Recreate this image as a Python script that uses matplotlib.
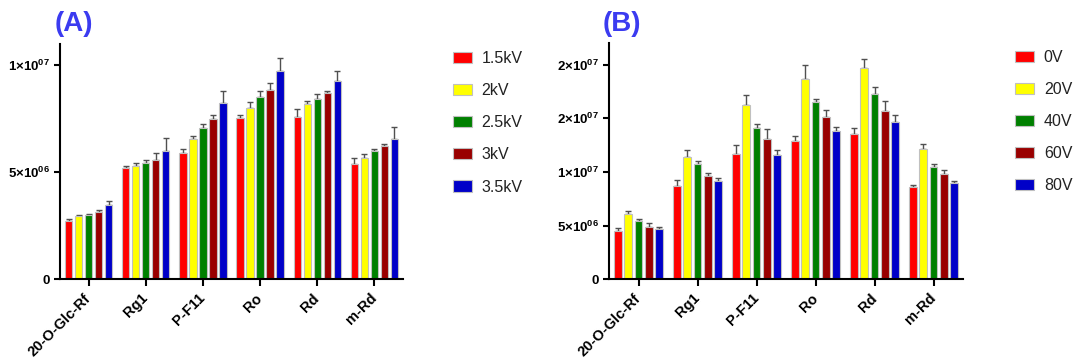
import numpy as np
import matplotlib
matplotlib.use('Agg')
import matplotlib.pyplot as plt

plt.rcParams['font.family'] = 'Liberation Sans'
plt.rcParams['mathtext.fontset'] = 'custom'
plt.rcParams['mathtext.rm'] = 'Liberation Sans:bold'
plt.rcParams['mathtext.bf'] = 'Liberation Sans:bold'

compounds = ['20-O-Glc-Rf', 'Rg1', 'P-F11', 'Ro', 'Rd', 'm-Rd']
colors = ['#ff0000', '#ffff00', '#008000', '#990000', '#0000c8']

# (A) capillary voltage, peak area per compound
kv_labels = ['1.5kV', '2kV', '2.5kV', '3kV', '3.5kV']
kv_mean = [
    [2.72, 5.19, 5.90, 7.54, 7.57, 5.38],
    [2.94, 5.29, 6.57, 8.01, 8.20, 5.68],
    [3.00, 5.45, 7.07, 8.53, 8.45, 5.99],
    [3.16, 5.59, 7.51, 8.83, 8.70, 6.23],
    [3.47, 5.99, 8.26, 9.75, 9.28, 6.57],
]
kv_err = [
    [0.10, 0.11, 0.17, 0.13, 0.39, 0.27],
    [0.08, 0.14, 0.13, 0.28, 0.13, 0.17],
    [0.06, 0.14, 0.17, 0.28, 0.19, 0.09],
    [0.10, 0.30, 0.19, 0.34, 0.11, 0.08],
    [0.20, 0.61, 0.52, 0.58, 0.47, 0.56],
]

# (B) cone voltage
v_labels = ['0V', '20V', '40V', '60V', '80V']
v_mean = [
    [4.46, 8.68, 11.71, 12.90, 13.50, 8.62],
    [6.09, 11.43, 16.27, 18.71, 19.74, 12.12],
    [5.46, 10.74, 14.15, 16.50, 17.30, 10.50],
    [4.90, 9.65, 13.06, 15.15, 15.71, 9.78],
    [4.71, 9.18, 11.56, 13.80, 14.65, 8.96],
]
v_err = [
    [0.31, 0.53, 0.78, 0.47, 0.59, 0.16],
    [0.28, 0.63, 0.87, 1.28, 0.78, 0.47],
    [0.16, 0.28, 0.34, 0.31, 0.66, 0.28],
    [0.37, 0.22, 0.94, 0.66, 0.87, 0.37],
    [0.16, 0.22, 0.50, 0.41, 0.66, 0.20],
]

a_ticks = [0, 5e6, 1e7]
a_ticklabels = ['0', '5×10$^{06}$', '1×10$^{07}$']
b_ticks = [0, 5e6, 1e7, 1.5e7, 2e7]
b_ticklabels = ['0', '5×10$^{06}$', '1×10$^{07}$', '2×10$^{07}$', '2×10$^{07}$']

fig = plt.figure(figsize=(10.81, 3.63), dpi=100)
axA = fig.add_axes([0.0555, 0.2306, 0.3173, 0.6482])
axB = fig.add_axes([0.5634, 0.2306, 0.3275, 0.6501])


def grouped_bars(ax, means, errs, labels, ymax, ticks, ticklabels):
    x = np.arange(len(compounds))
    pitch = 0.175
    width = 0.13
    for i, (m, e) in enumerate(zip(means, errs)):
        m = np.array(m) * 1e6
        e = np.array(e) * 1e6
        pos = x + (i - 2) * pitch
        ax.bar(pos, m, width, color=colors[i], edgecolor='#c0c0c0',
               linewidth=0.8, label=labels[i], zorder=2)
        ax.errorbar(pos, m, yerr=[np.zeros_like(e), e], fmt='none',
                    ecolor='#505050', elinewidth=1, capsize=2, capthick=1,
                    zorder=1)
    ax.set_xlim(-0.5, 5.5)
    ax.set_ylim(0, ymax)
    ax.set_xticks(x)
    ax.set_xticklabels(compounds, rotation=45, ha='right', va='center',
                       rotation_mode='anchor', fontsize=10.5,
                       fontweight='bold')
    ax.set_yticks(ticks)
    ax.set_yticklabels(ticklabels, fontsize=9.5, fontweight='bold')
    for s in ['top', 'right']:
        ax.spines[s].set_visible(False)
    for s in ['left', 'bottom']:
        ax.spines[s].set_linewidth(1.5)
    ax.tick_params(axis='both', width=1.5, length=4, pad=3)
    ax.tick_params(axis='x', length=5, pad=7)


grouped_bars(axA, kv_mean, kv_err, kv_labels, 11e6, a_ticks, a_ticklabels)
grouped_bars(axB, v_mean, v_err, v_labels, 22e6, b_ticks, b_ticklabels)

leg_kw = dict(loc='upper left', bbox_transform=fig.transFigure,
              frameon=False, fontsize=11.5, handlelength=1.2,
              handleheight=0.7, handletextpad=0.6, labelspacing=1.07,
              borderpad=0, borderaxespad=0)
lgA = axA.legend(bbox_to_anchor=(0.419, 0.859), **leg_kw)
lgB = axB.legend(bbox_to_anchor=(0.939, 0.862), **leg_kw)
for lg in (lgA, lgB):
    for t in lg.get_texts():
        t.set_color('#222222')

fig.text(0.0685, 0.934, '(A)', color='#3b3bf0', fontsize=20,
         fontweight='bold', ha='center', va='center')
fig.text(0.5754, 0.934, '(B)', color='#3b3bf0', fontsize=20,
         fontweight='bold', ha='center', va='center')

fig.savefig('out.png', dpi=100)
